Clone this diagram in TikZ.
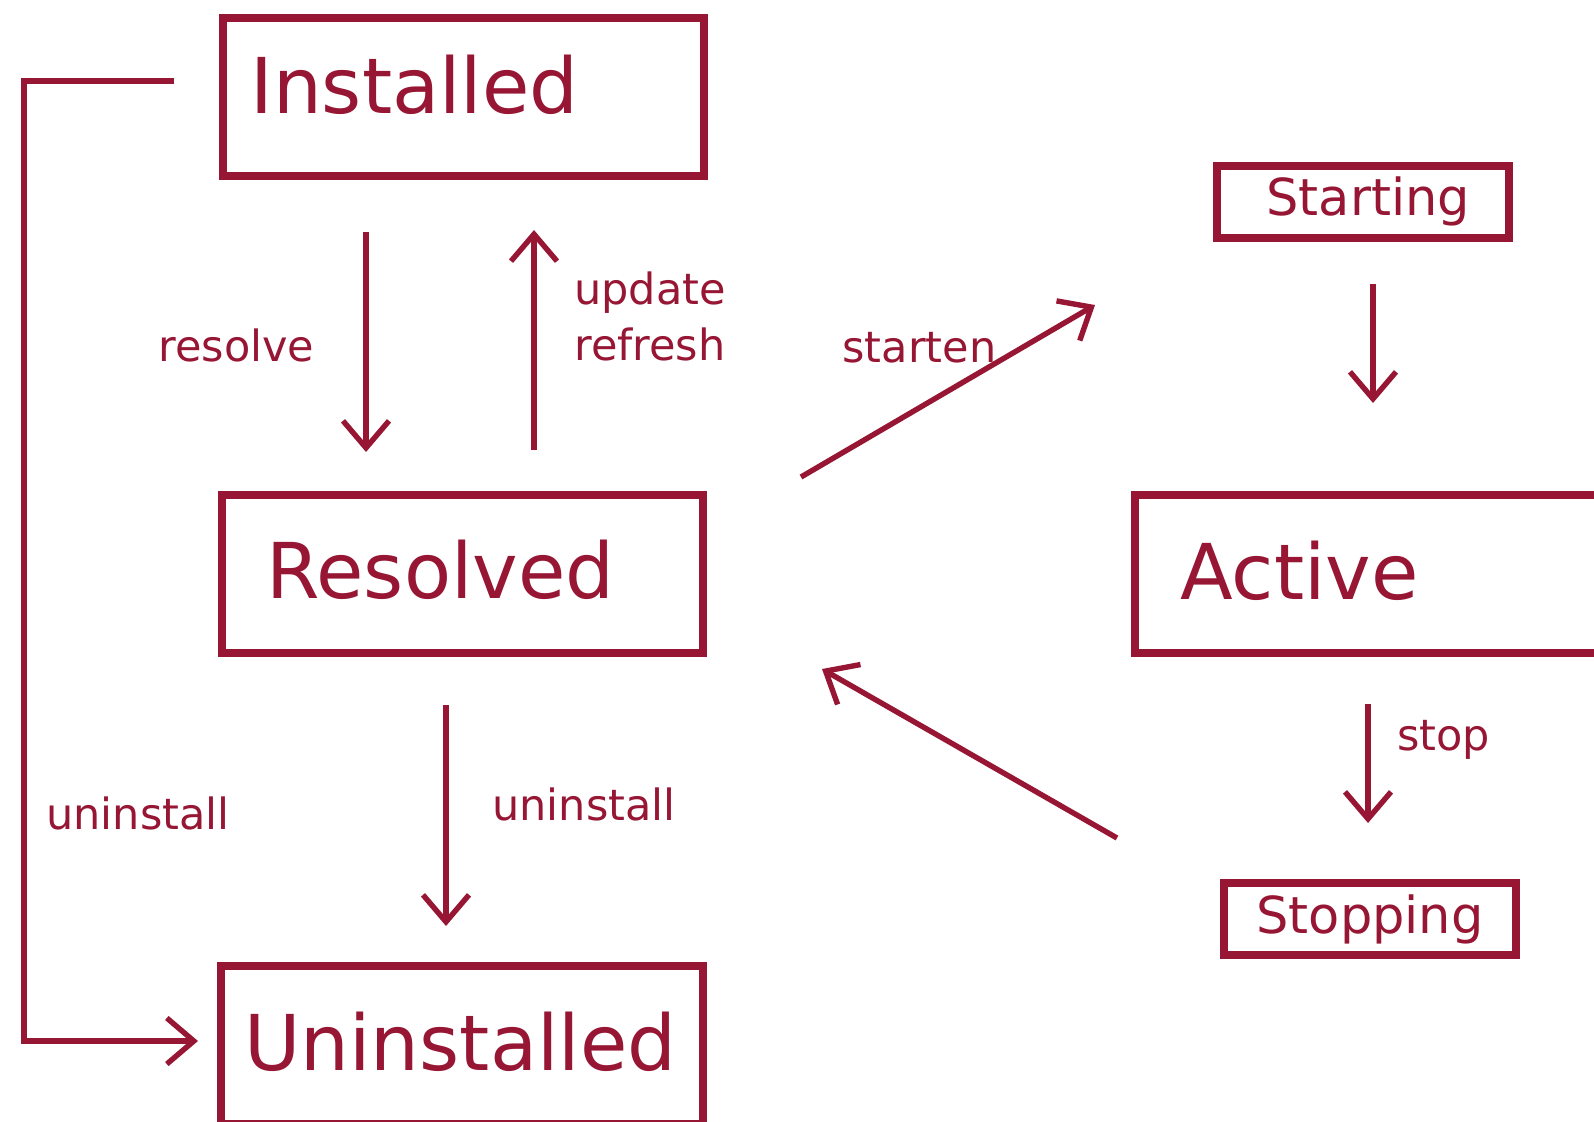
\documentclass[tikz,border=0pt]{standalone}
\usepackage{fontspec}
\setmainfont{DejaVu Sans}
\usetikzlibrary{arrows.meta}
\definecolor{bundlered}{RGB}{150,22,52}
\tikzset{
  statebox/.style={draw=bundlered, line width=4pt, inner sep=0pt},
  bigtext/.style={text=bundlered, font=\fontsize{38.5pt}{46pt}\selectfont, inner sep=0pt, anchor=base west},
  midtext/.style={text=bundlered, font=\fontsize{25.5pt}{30pt}\selectfont, inner sep=0pt, anchor=base west},
  lbl/.style={text=bundlered, font=\fontsize{21.5pt}{26pt}\selectfont, inner sep=0pt, anchor=base west},
  trans/.style={draw=bundlered, line width=2.7pt,
    -{Straight Barb[length=13.5pt, width=23pt]}},
}
\begin{document}
\begin{tikzpicture}[x=0.5pt, y=-0.5pt]
  \useasboundingbox (0,0) rectangle (1594,1121);
  \clip (0,0) rectangle (1594,1121);

  % state boxes (sizes in pt: half of the drawing units)
  \node[statebox, minimum width=240.5pt, minimum height=79pt] (inst) at (463.5,97) {};
  \node[statebox, minimum width=240.5pt, minimum height=79pt] (res) at (462.5,574) {};
  \node[statebox, minimum width=300pt, minimum height=79.25pt] (act) at (1435,574) {};
  \node[statebox, minimum width=241pt, minimum height=79pt] (unin) at (462,1045) {};
  \node[statebox, minimum width=146pt, minimum height=36.25pt] (start) at (1363,202) {};
  \node[statebox, minimum width=146pt, minimum height=36pt] (stopb) at (1370,919) {};

  % state names
  \node[bigtext] (instT) at (250,113) {Installed};
  \node[bigtext] (resT) at (266,598) {Resolved};
  \node[bigtext] (actT) at (1180,599) {Active};
  \node[bigtext] (uninT) at (244,1070) {Uninstalled};
  \node[midtext] (startT) at (1266,215) {Starting};
  \node[midtext] (stopT) at (1256,933) {Stopping};

  % transition end points
  \coordinate (r1) at (366,232);  \coordinate (r2) at (366,452);
  \coordinate (u1) at (534,450);  \coordinate (u2) at (534,230);
  \coordinate (s1) at (801,477);  \coordinate (s2) at (1095,305);
  \coordinate (b1) at (1117,838); \coordinate (b2) at (822,669);
  \coordinate (a1) at (1373,284); \coordinate (a2) at (1373,403);
  \coordinate (p1) at (1368,704); \coordinate (p2) at (1368,823);
  \coordinate (d1) at (446,705);  \coordinate (d2) at (446,926);
  \coordinate (l1) at (174,81);   \coordinate (l2) at (198,1041);

  % transitions
  \draw[trans] (r1) -- (r2);
  \draw[trans] (u1) -- (u2);
  \draw[trans] (s1) -- (s2);
  \draw[trans] (b1) -- (b2);
  \draw[trans] (a1) -- (a2);
  \draw[trans] (p1) -- (p2);
  \draw[trans] (d1) -- (d2);
  \draw[trans] (l1) -- (24,81) -- (24,1041) -- (l2);

  % transition labels
  \node[lbl] (lres) at (158,361) {resolve};
  \node[lbl] (lupd) at (574,304) {update};
  \node[lbl] (lref) at (574,360) {refresh};
  \node[lbl] (lsta) at (842,362) {starten};
  \node[lbl] (lstp) at (1397,750) {stop};
  \node[lbl] (lun1) at (492,820) {uninstall};
  \node[lbl] (lun2) at (46,829) {uninstall};
\end{tikzpicture}
\end{document}
